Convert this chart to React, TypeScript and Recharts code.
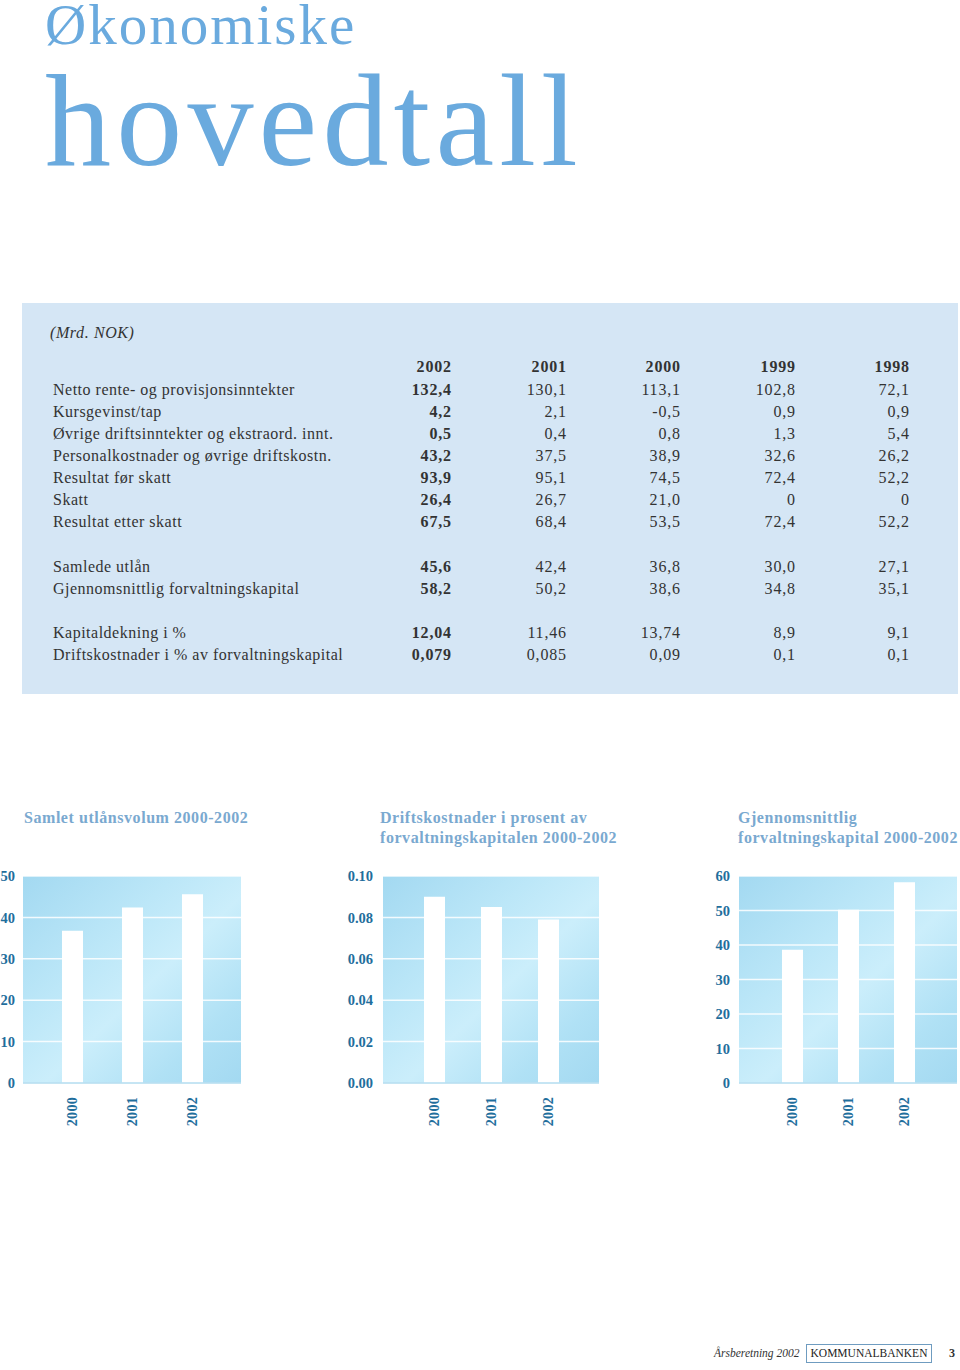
import { Bar, BarChart, CartesianGrid, XAxis, YAxis } from "recharts";

const years = ["2002", "2001", "2000", "1999", "1998"];
const rowLabels = [
  "Netto rente- og provisjonsinntekter",
  "Kursgevinst/tap",
  "Øvrige driftsinntekter og ekstraord. innt.",
  "Personalkostnader og øvrige driftskostn.",
  "Resultat før skatt",
  "Skatt",
  "Resultat etter skatt",
  "Samlede utlån",
  "Gjennomsnittlig forvaltningskapital",
  "Kapitaldekning i %",
  "Driftskostnader i % av forvaltningskapital",
];
const rowValues = [
  ["132,4", "130,1", "113,1", "102,8", "72,1"],
  ["4,2", "2,1", "-0,5", "0,9", "0,9"],
  ["0,5", "0,4", "0,8", "1,3", "5,4"],
  ["43,2", "37,5", "38,9", "32,6", "26,2"],
  ["93,9", "95,1", "74,5", "72,4", "52,2"],
  ["26,4", "26,7", "21,0", "0", "0"],
  ["67,5", "68,4", "53,5", "72,4", "52,2"],
  ["45,6", "42,4", "36,8", "30,0", "27,1"],
  ["58,2", "50,2", "38,6", "34,8", "35,1"],
  ["12,04", "11,46", "13,74", "8,9", "9,1"],
  ["0,079", "0,085", "0,09", "0,1", "0,1"],
];

const chartYears = ["2000", "2001", "2002"];
const utlan = [36.8, 42.4, 45.6];
const driftPst = [0.09, 0.085, 0.079];
const forvKap = [38.6, 50.2, 58.2];

const serif = "'Liberation Serif', 'Times New Roman', serif";
const tickBlue = "#1f6e9c";

// layout helpers (not data)
const rowY = [390, 412, 434, 456, 478, 500, 522, 567, 589, 633, 655];
const colRight = [451, 566, 680, 795, 909];

function YearTick({ x, y, payload }: any) {
  const ty = y + 6;
  return (
    <text
      x={x}
      y={ty}
      transform={`rotate(-90 ${x} ${ty})`}
      textAnchor="end"
      dy="0.35em"
      fill={tickBlue}
      fontFamily={serif}
      fontWeight="bold"
      fontSize={14}
      letterSpacing={0.3}
    >
      {payload.value}
    </text>
  );
}

interface MiniProps {
  id: string;
  left: number;
  width: number;
  axisW: number;
  tickGap: number;
  values: number[];
  max: number;
  ticks: number[];
  fmt: (v: number) => string;
  pad: { left: number; right: number };
  title: string[];
  titleLeft: number;
}

function MiniChart(p: MiniProps) {
  const data = chartYears.map((y, i) => ({ year: y, v: p.values[i] }));
  return (
    <>
      <div
        style={{
          position: "absolute",
          left: p.titleLeft,
          top: 808,
          fontFamily: serif,
          fontWeight: "bold",
          fontSize: 16,
          letterSpacing: 0.55,
          lineHeight: "20px",
          color: "#7aa9d0",
          whiteSpace: "nowrap",
        }}
      >
        {p.title.map((t) => (
          <div key={t}>{t}</div>
        ))}
      </div>
      <div style={{ position: "absolute", left: p.left, top: 860 }}>
        <BarChart
          width={p.width}
          height={280}
          data={data}
          margin={{ top: 16, right: 0, left: 0, bottom: 12 }}
        >
          <defs>
            <linearGradient id={p.id} x1="0" y1="0" x2="1" y2="1">
              <stop offset="0%" stopColor="#a3d9f1" />
              <stop offset="35%" stopColor="#bce7f8" />
              <stop offset="55%" stopColor="#cbeefb" />
              <stop offset="80%" stopColor="#b0e1f5" />
              <stop offset="100%" stopColor="#a3d9f1" />
            </linearGradient>
          </defs>
          <CartesianGrid
            vertical={false}
            stroke="#ffffff"
            strokeOpacity={0.85}
            strokeWidth={1.5}
            fill={`url(#${p.id})`}
            fillOpacity={1}
          />
          <XAxis
            dataKey="year"
            height={45}
            padding={p.pad}
            tickLine={false}
            axisLine={{ stroke: "#8ccbe8" }}
            tick={<YearTick />}
            interval={0}
          />
          <YAxis
            width={p.axisW}
            domain={[0, p.max]}
            ticks={p.ticks}
            tickFormatter={p.fmt}
            axisLine={false}
            tickLine={false}
            tickMargin={p.tickGap}
            tick={{
              fill: tickBlue,
              fontFamily: serif,
              fontWeight: "bold",
              fontSize: 14.5,
            }}
          />
          <Bar dataKey="v" fill="#ffffff" barSize={21} isAnimationActive={false} />
        </BarChart>
      </div>
    </>
  );
}

export default function App() {
  const cell = (top: number): React.CSSProperties => ({
    position: "absolute",
    top: top - 11,
    lineHeight: "22px",
    whiteSpace: "nowrap",
  });
  return (
    <div
      style={{
        position: "absolute",
        left: 0,
        top: 0,
        width: 960,
        height: 1370,
        background: "#ffffff",
        overflow: "hidden",
        fontFamily: serif,
        color: "#333333",
      }}
    >
      <svg width={960} height={200} style={{ position: "absolute", left: 0, top: 0 }}>
        <text x={45} y={44} fontFamily={serif} fontSize={57} letterSpacing={2} fill="#6aaade">
          Økonomiske
        </text>
        <text x={45} y={165} fontFamily={serif} fontSize={132} letterSpacing={5.2} fill="#6aaade">
          hovedtall
        </text>
      </svg>

      <div
        style={{
          position: "absolute",
          left: 22,
          top: 303,
          width: 936,
          height: 391,
          background: "#d5e6f5",
        }}
      />
      <div style={{ ...cell(333), left: 50, fontStyle: "italic", fontSize: 16, letterSpacing: 0.6 }}>
        (Mrd. NOK)
      </div>
      {years.map((y, c) => (
        <div
          key={y}
          style={{
            ...cell(367),
            right: 960 - colRight[c] - 0.8,
            fontWeight: "bold",
            fontSize: 16,
            letterSpacing: 0.8,
          }}
        >
          {y}
        </div>
      ))}
      {rowLabels.map((lab, r) => (
        <div key={lab}>
          <div style={{ ...cell(rowY[r]), left: 53, fontSize: 16, letterSpacing: 0.5 }}>{lab}</div>
          {rowValues[r].map((v, c) => (
            <div
              key={c}
              style={{
                ...cell(rowY[r]),
                right: 960 - colRight[c] - 0.8,
                fontSize: 16,
                letterSpacing: 0.8,
                fontWeight: c === 0 ? "bold" : "normal",
              }}
            >
              {v}
            </div>
          ))}
        </div>
      ))}

      <MiniChart
        id="bg1"
        left={0}
        width={241}
        axisW={23}
        tickGap={2}
        values={utlan}
        max={50}
        ticks={[0, 10, 20, 30, 40, 50]}
        fmt={(v) => String(v)}
        pad={{ left: 19, right: 19 }}
        title={["Samlet utlånsvolum 2000-2002"]}
        titleLeft={24}
      />
      <MiniChart
        id="bg2"
        left={340}
        width={259}
        axisW={43}
        tickGap={4}
        values={driftPst}
        max={0.1}
        ticks={[0, 0.02, 0.04, 0.06, 0.08, 0.1]}
        fmt={(v) => v.toFixed(2)}
        pad={{ left: 23, right: 22 }}
        title={["Driftskostnader i prosent av", "forvaltningskapitalen 2000-2002"]}
        titleLeft={380}
      />
      <MiniChart
        id="bg3"
        left={700}
        width={257}
        axisW={39}
        tickGap={3}
        values={forvKap}
        max={60}
        ticks={[0, 10, 20, 30, 40, 50, 60]}
        fmt={(v) => String(v)}
        pad={{ left: 25, right: 25 }}
        title={["Gjennomsnittlig", "forvaltningskapital 2000-2002"]}
        titleLeft={738}
      />

      <div style={{ ...cell(1353), left: 714, fontStyle: "italic", fontSize: 11.5 }}>
        Årsberetning 2002
      </div>
      <div
        style={{
          position: "absolute",
          left: 806,
          top: 1344,
          width: 124,
          height: 17,
          border: "1px solid #6f9cc0",
          fontSize: 11.5,
          lineHeight: "17px",
          textAlign: "center",
          color: "#222",
        }}
      >
        KOMMUNALBANKEN
      </div>
      <div style={{ ...cell(1353), left: 949, fontWeight: "bold", fontSize: 12 }}>3</div>
    </div>
  );
}
